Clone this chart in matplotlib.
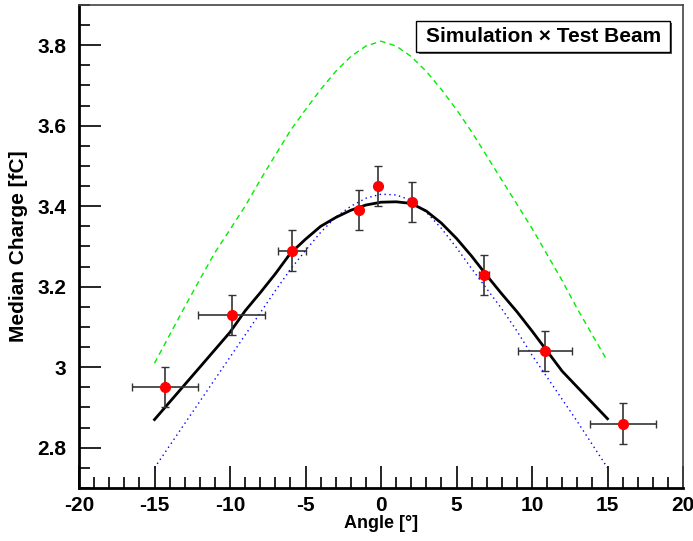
import matplotlib.pyplot as plt
from matplotlib.patches import Rectangle
from matplotlib.ticker import MultipleLocator

plt.rcParams['font.family'] = ['Liberation Sans', 'DejaVu Sans']
plt.rcParams['font.weight'] = 'bold'
plt.rcParams['axes.unicode_minus'] = False

# test beam measurements
angle = [-14.3, -9.9, -5.9, -1.46, -0.18, 2.03, 6.82, 10.84, 16.03]
angle_err = [2.2, 2.2, 0.9, 0.0, 0.0, 0.0, 0.3, 1.8, 2.2]
charge = [2.95, 3.13, 3.29, 3.39, 3.45, 3.41, 3.23, 3.04, 2.86]
charge_err = [0.05, 0.05, 0.05, 0.05, 0.05, 0.05, 0.05, 0.05, 0.05]

# simulation curves
fit_x = [-15, -12, -10, -9, -8, -7, -6, -5, -4, -3, -2, -1, 0, 1, 2, 3, 4, 5, 6, 7, 8, 9, 10, 12, 15]
fit_y = [2.87, 3.0, 3.087, 3.14, 3.185, 3.232, 3.283, 3.318, 3.35, 3.372, 3.39, 3.403, 3.41,
         3.411, 3.407, 3.388, 3.358, 3.32, 3.276, 3.228, 3.182, 3.138, 3.09, 2.99, 2.872]

green_x = [-15, -14, -13, -12, -11, -10, -9, -8, -7, -6, -5, -4, -3, -2, -1, 0,
           1, 2, 3, 4, 5, 6, 7, 8, 9, 10, 11, 12, 13, 14, 15]
green_y = [3.01, 3.08, 3.15, 3.218, 3.285, 3.342, 3.40, 3.465, 3.527, 3.588, 3.64, 3.69, 3.735,
           3.772, 3.798, 3.81, 3.798, 3.772, 3.735, 3.69, 3.64, 3.585, 3.525, 3.465, 3.405, 3.345,
           3.28, 3.215, 3.145, 3.08, 3.015]

blue_x = [-15, -13, -11, -10, -9, -8, -7, -6, -5, -4, -3, -2, -1, 0,
          1, 2, 3, 4, 5, 6, 7, 8, 9, 10, 11, 13, 15]
blue_y = [2.75, 2.86, 2.97, 3.025, 3.08, 3.135, 3.19, 3.243, 3.29, 3.335, 3.373, 3.40, 3.42, 3.43,
          3.428, 3.415, 3.385, 3.345, 3.297, 3.245, 3.195, 3.145, 3.09, 3.03, 2.975, 2.865, 2.75]

fig = plt.figure(figsize=(6.93, 5.41), dpi=100)
ax = fig.add_axes([0.114, 0.098, 0.8716, 0.8928])

ax.plot(green_x, green_y, color='#00ee00', linestyle=(0, (4, 3)), linewidth=1)
ax.plot(blue_x, blue_y, color='blue', linestyle=(0, (1, 2.5)), linewidth=1)
ax.plot(fit_x, fit_y, color='black', linewidth=2)
ax.errorbar(angle, charge, xerr=angle_err, yerr=charge_err, fmt='o', color='red',
            markersize=7, ecolor='#333333', elinewidth=1.2, capsize=3, zorder=5)

ax.set_xlim(-20, 20)
ax.set_ylim(2.7, 3.9)
ax.xaxis.set_major_locator(MultipleLocator(5))
ax.xaxis.set_minor_locator(MultipleLocator(1))
ax.yaxis.set_minor_locator(MultipleLocator(0.05))
ax.set_yticks([2.8, 3.0, 3.2, 3.4, 3.6, 3.8])
ax.set_yticklabels(['2.8', '3', '3.2', '3.4', '3.6', '3.8'])
ax.tick_params(which='both', direction='in', top=False, right=False, labelsize=15, width=1.2)
ax.tick_params(which='major', length=16)
ax.tick_params(which='minor', length=8)
ax.tick_params(axis='x', pad=6)
ax.tick_params(axis='y', pad=9)
for s in ['left', 'bottom']:
    ax.spines[s].set_linewidth(2)
for s in ['top', 'right']:
    ax.spines[s].set_linewidth(1.2)
    ax.spines[s].set_color('#444444')

ax.set_xlabel('Angle [°]', fontsize=13, fontweight='bold', labelpad=0)
ax.set_ylabel('Median Charge [fC]', fontsize=15, fontweight='bold', labelpad=7)

# legend-like pave
fig.patches.append(Rectangle((0.604, 0.900), 0.366, 0.0579, transform=fig.transFigure,
                             facecolor='#555555', edgecolor='none'))
fig.patches.append(Rectangle((0.601, 0.9033), 0.366, 0.0579, transform=fig.transFigure,
                             facecolor='white', edgecolor='black', linewidth=1))
fig.text(0.784, 0.932, 'Simulation × Test Beam', ha='center', va='center', fontsize=15,
         fontweight='bold')

fig.savefig('out.png', dpi=100)
